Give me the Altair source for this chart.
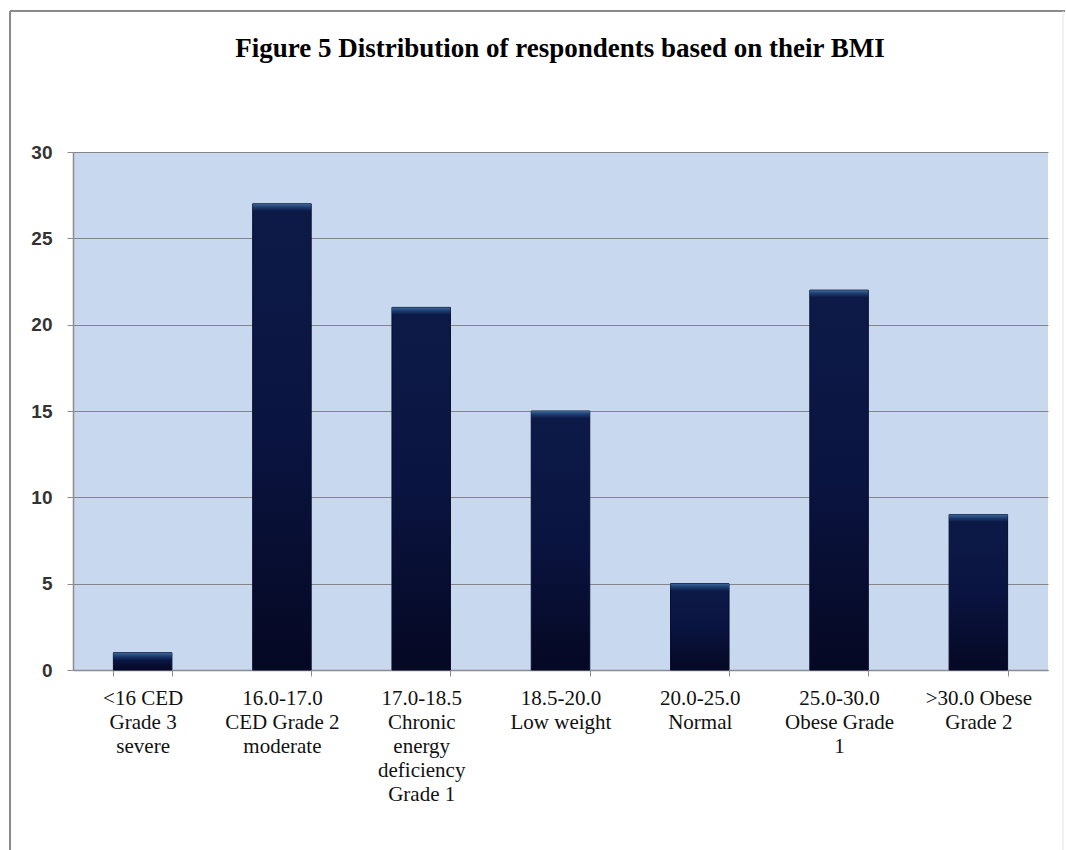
import altair as alt
import pandas as pd

# BMI groups (line breaks marked with "|") and respondent counts
categories = [
    "<16 CED|Grade 3|severe",
    "16.0-17.0|CED Grade 2|moderate",
    "17.0-18.5|Chronic|energy|deficiency|Grade 1",
    "18.5-20.0|Low weight",
    "20.0-25.0|Normal",
    "25.0-30.0|Obese Grade|1",
    ">30.0 Obese|Grade 2",
]
counts = [1, 27, 21, 15, 5, 22, 9]
y_ticks = [0, 5, 10, 15, 20, 25, 30]
title_text = ["Figure 5 Distribution of respondents based on their BMI"]

df = pd.DataFrame({"group": categories, "count": counts})
title_df = pd.DataFrame({"text": title_text})

x_enc = alt.X(
    "group:N",
    sort=categories,
    title=None,
    scale=alt.Scale(paddingInner=0.58, paddingOuter=0.29),
    axis=alt.Axis(
        labelExpr="isValid(datum.value) ? split(datum.value, '|') : ''",
        labelAngle=0,
        labelFont="Liberation Serif",
        labelFontSize=21,
        labelLineHeight=24,
        labelColor="#111111",
        labelPadding=11,
        labelBaseline="top",
        tickBand="extent",
        ticks=True,
        tickSize=6,
        tickColor="#8c8c8c",
        domainColor="#8c8c8c",
        domainWidth=1.5,
        grid=False,
    ),
)

y_enc = alt.Y(
    "count:Q",
    title=None,
    scale=alt.Scale(domain=[0, 30], nice=False),
    axis=alt.Axis(
        values=y_ticks,
        labelFont="Liberation Sans",
        labelFontSize=19,
        labelFontWeight="bold",
        labelColor="#333333",
        labelPadding=15,
        tickSize=6,
        tickColor="#8c8c8c",
        domainColor="#8c8c8c",
        domainWidth=1.5,
        grid=True,
        gridColor="#858585",
        gridWidth=1.2,
    ),
)

# dark navy columns, fading to near black at the base
bars = alt.Chart(df).mark_bar(
    color=alt.Gradient(
        gradient="linear",
        x1=0, y1=0, x2=0, y2=1,
        stops=[
            alt.GradientStop(color="#0d1a48", offset=0),
            alt.GradientStop(color="#0a1440", offset=0.5),
            alt.GradientStop(color="#050823", offset=1),
        ],
    ),
    stroke="#070d2c",
    strokeWidth=1,
).encode(x=x_enc, y=y_enc)

# bevelled highlight along the top of each column
caps = alt.Chart(df).transform_calculate(
    cap_low="datum.count - 0.42"
).mark_bar(
    color=alt.Gradient(
        gradient="linear",
        x1=0, y1=0, x2=0, y2=1,
        stops=[
            alt.GradientStop(color="#3a6898", offset=0),
            alt.GradientStop(color="#1c3a6c", offset=0.5),
            alt.GradientStop(color="#0d1a48", offset=1),
        ],
    ),
).encode(
    x=alt.X("group:N", sort=categories),
    y=alt.Y("count:Q"),
    y2="cap_low:Q",
)

# figure heading
heading = alt.Chart(title_df).mark_text(
    font="Liberation Serif",
    fontSize=27,
    fontWeight="bold",
    color="#000000",
    align="center",
    baseline="alphabetic",
).encode(
    text="text:N",
    x=alt.value(487),
    y=alt.value(-95),
)

# outer frame around the figure
frame_left = alt.Chart(title_df).mark_rule(color="#8a8a8a", strokeWidth=2).encode(
    x=alt.value(-63), y=alt.value(-141), y2=alt.value(700)
)
frame_top = alt.Chart(title_df).mark_rule(color="#8a8a8a", strokeWidth=2).encode(
    x=alt.value(-63), x2=alt.value(992), y=alt.value(-141)
)
frame_right = alt.Chart(title_df).mark_rule(color="#e2e2e2", strokeWidth=1).encode(
    x=alt.value(990), y=alt.value(-141), y2=alt.value(700)
)

chart = alt.layer(
    bars, caps, heading, frame_left, frame_top, frame_right
).properties(
    width=975,
    height=518,
    autosize=alt.AutoSizeParams(type="none"),
    padding={"left": 73, "top": 152, "right": 18, "bottom": 180},
    background="#ffffff",
).configure_view(
    fill="#c8d8ef",
    strokeWidth=0,
)

chart.save("out.html", embed_options={"renderer": "svg", "actions": False})
